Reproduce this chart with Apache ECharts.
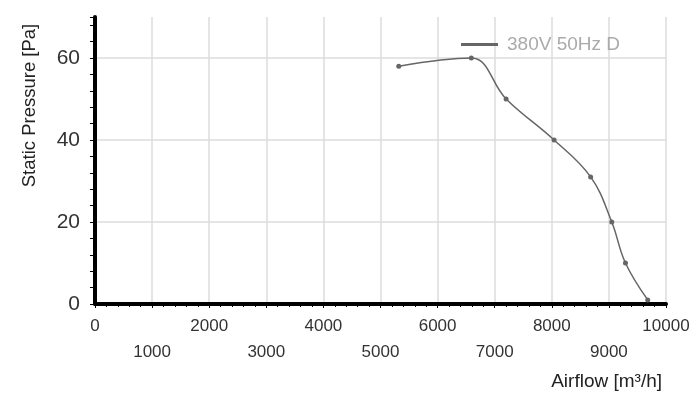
<!DOCTYPE html>
<html>
<head>
<meta charset="utf-8">
<script src="https://cdn.jsdelivr.net/npm/echarts@6/dist/echarts.min.js"></script>
<style>
  html, body { margin: 0; padding: 0; background: #fff; }
  #chart { width: 700px; height: 404px; }
</style>
</head>
<body>
<div id="chart"></div>
<script>
// fan curve
const seriesName = '380V 50Hz D';
const airflow = [5320, 6590, 7200, 8040, 8680, 9050, 9290, 9680];
const pressure = [58, 60, 50, 40, 31, 20, 10, 1];

const font = '"Liberation Sans", Arial, sans-serif';
const chart = echarts.init(document.getElementById('chart'));

chart.setOption({
    animation: false,
    textStyle: {fontFamily: font},
    grid: {left: 95, right: 34, top: 17, bottom: 100},
    legend: {
        left: 456, top: 30,
        icon: 'rect', itemWidth: 37, itemHeight: 3, itemGap: 10,
        textStyle: {color: '#aaa', fontSize: 19, fontFamily: font, padding: [0, 0, 0, 4]},
        data: [seriesName],
    },
    xAxis: {
        type: 'value', min: 0, max: 10000, interval: 1000,
        name: 'Airflow [m³/h]',
        nameLocation: 'end', nameGap: -4,
        nameTextStyle: {color: '#222', fontSize: 19, align: 'right', verticalAlign: 'top', padding: [68, 0, 0, 0]},
        axisLine: {lineStyle: {color: '#000', width: 4}},
        axisTick: {show: true, length: 4, lineStyle: {color: '#000', width: 1}},
        minorTick: {show: true, splitNumber: 5, length: 3, lineStyle: {color: '#000', width: 1}},
        splitLine: {show: true, lineStyle: {color: '#ddd', width: 1.5}},
        axisLabel: {
            color: '#333', fontSize: 17, lineHeight: 26, margin: 9,
            formatter: v => (v / 1000) % 2 === 1 ? '\n' + v : String(v),
        },
    },
    yAxis: {
        type: 'value', min: 0, max: 70, interval: 20,
        name: 'Static Pressure [Pa]',
        nameLocation: 'middle', nameGap: 56, nameRotate: 90,
        nameTextStyle: {color: '#222', fontSize: 18.5, padding: [0, 0, 0, 110]},
        axisLine: {lineStyle: {color: '#000', width: 4}},
        axisTick: {show: true, length: 5, lineStyle: {color: '#000', width: 1}},
        minorTick: {show: true, splitNumber: 5, length: 5, lineStyle: {color: '#000', width: 1}},
        splitLine: {show: true, showMaxLine: false, lineStyle: {color: '#ddd', width: 1.5}},
        axisLabel: {
            color: '#333', fontSize: 21, margin: 15,
            showMaxLabel: false,
            formatter: v => v % 20 === 0 ? String(v) : '',
        },
    },
    series: [{
        name: seriesName,
        type: 'line',
        smooth: 0.4,
        data: airflow.map((x, i) => [x, pressure[i]]),
        color: '#666',
        lineStyle: {color: '#666', width: 1.5},
        symbol: 'circle', symbolSize: 5,
        itemStyle: {color: '#666'},
    }],
});
</script>
</body>
</html>
